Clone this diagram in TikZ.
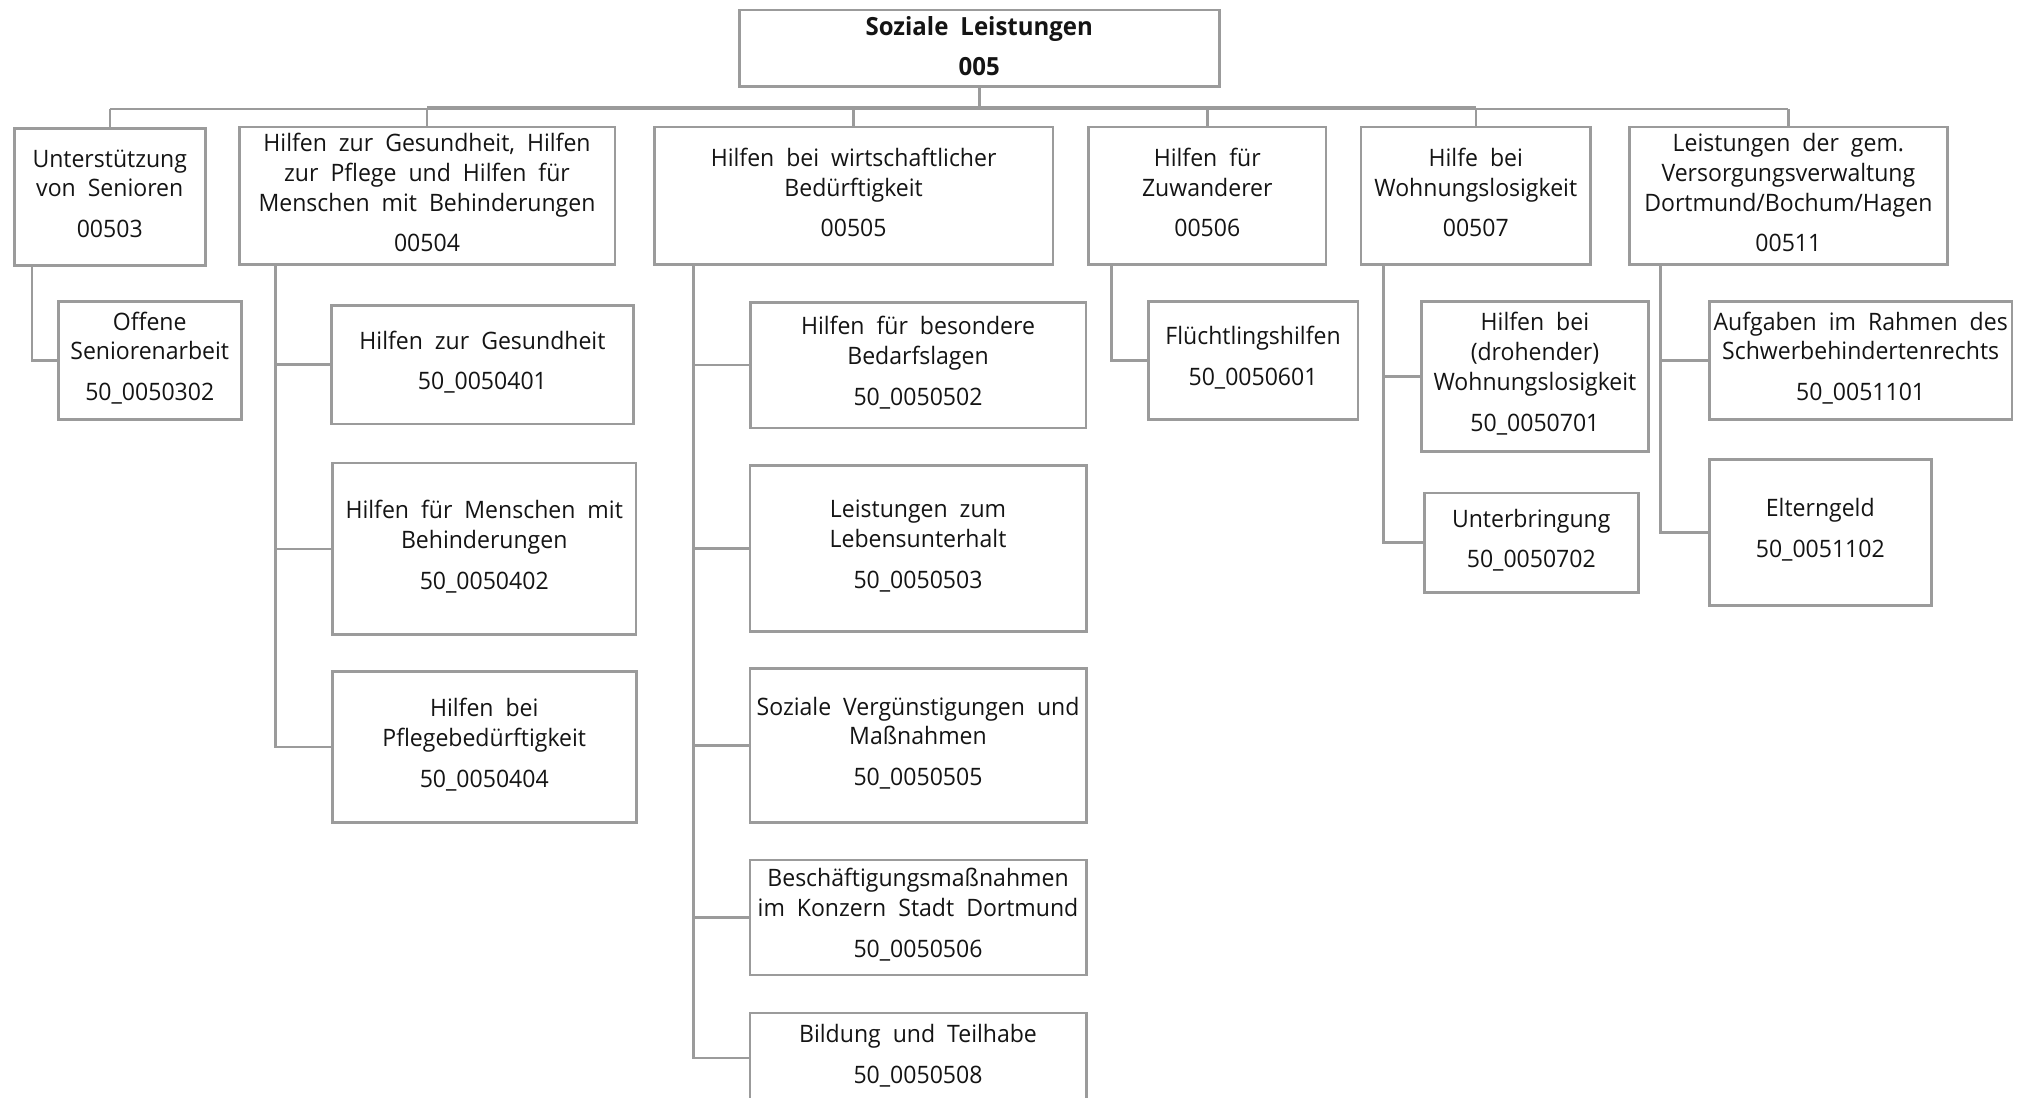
\documentclass[tikz,border=0pt]{standalone}
\usepackage{fontspec}
\setmainfont{Open Sans}[FakeStretch=0.96]
\usetikzlibrary{calc}
\definecolor{lineg}{RGB}{155,155,155}
\definecolor{txt}{RGB}{20,20,20}
\newcommand\gp{\\[11pt]}
\newcommand\wsp{\spaceskip=12pt plus 2pt\relax}
\tikzset{
  box/.style={draw=lineg, line width=2.5pt, fill=white, inner sep=0pt, anchor=north west,
    align=center, text=txt, font={\fontsize{24}{29.8}\selectfont\wsp}, text depth=8.5pt},
  lvtwo/.style={box, text depth=6.5pt},
  conn/.style={draw=lineg, line width=2.5pt},
}
\begin{document}
\begin{tikzpicture}[x=1pt,y=-1pt]
\useasboundingbox[fill=white] (0,0) rectangle (2033,1097);
% root
\node[box, text depth=5pt, minimum width=480, minimum height=76.5, font={\fontsize{25}{40}\selectfont\bfseries\wsp}] (root) at (738,9) {Soziale Leistungen\\005};
% level 2
\node[lvtwo, minimum width=191, minimum height=136.5] (n503) at (13,127.5) {Unterstützung\\von Senioren\gp 00503};
\node[lvtwo, minimum width=375.5, minimum height=137.6] (n504) at (238,125.7) {Hilfen zur Gesundheit, Hilfen\\zur Pflege und Hilfen für\\Menschen mit Behinderungen\gp 00504};
\node[lvtwo, minimum width=398.7, minimum height=137.6] (n505) at (653,125.7) {Hilfen bei wirtschaftlicher\\Bedürftigkeit\gp 00505};
\node[lvtwo, minimum width=237.4, minimum height=137.6] (n506) at (1087.3,125.7) {Hilfen für\\Zuwanderer\gp 00506};
\node[lvtwo, minimum width=229.6, minimum height=137.6] (n507) at (1359.7,125.7) {Hilfe bei\\Wohnungslosigkeit\gp 00507};
\node[lvtwo, minimum width=317.8, minimum height=137.6] (n511) at (1628.2,125.7) {Leistungen der gem.\\Versorgungsverwaltung\\Dortmund/Bochum/Hagen\gp 00511};
% level 3
\node[box, minimum width=183, minimum height=118.3] (c0302) at (57,300) {Offene\\Seniorenarbeit\gp 50\_0050302};
\node[box, minimum width=302.3, minimum height=118.7] (c0401) at (330,304) {Hilfen zur Gesundheit\gp 50\_0050401};
\node[box, minimum width=303.9, minimum height=171.4] (c0402) at (331,461.9) {Hilfen für Menschen mit\\Behinderungen\gp 50\_0050402};
\node[box, minimum width=304, minimum height=150.7] (c0404) at (331,670.4) {Hilfen bei\\Pflegebedürftigkeit\gp 50\_0050404};
\node[box, minimum width=335.5, minimum height=125.7] (c0502) at (749,301) {Hilfen für besondere\\Bedarfslagen\gp 50\_0050502};
\node[box, minimum width=336.5, minimum height=166.3] (c0503) at (748.5,464) {Leistungen zum\\Lebensunterhalt\gp 50\_0050503};
\node[box, minimum width=336.5, minimum height=153.7] (c0505) at (748.5,667.4) {Soziale Vergünstigungen und\\Maßnahmen\gp 50\_0050505};
\node[box, minimum width=336.5, minimum height=114.8] (c0506) at (748.5,858.7) {Beschäftigungsmaßnahmen\\im Konzern Stadt Dortmund\gp 50\_0050506};
\node[box, minimum width=336.5, minimum height=90] (c0508) at (748.5,1011.7) {Bildung und Teilhabe\gp 50\_0050508};
\node[box, minimum width=209.5, minimum height=118.3] (c0601) at (1147,300) {Flüchtlingshilfen\gp 50\_0050601};
\node[box, minimum width=227.3, minimum height=150] (c0701) at (1420,300) {Hilfen bei\\(drohender)\\Wohnungslosigkeit\gp 50\_0050701};
\node[box, minimum width=214, minimum height=99.3] (c0702) at (1423,491.7) {Unterbringung\gp 50\_0050702};
\node[box, minimum width=302.8, minimum height=118.3] (c1101) at (1708,300) {Aufgaben im Rahmen des\\Schwerbehindertenrechts\gp 50\_0051101};
\node[box, minimum width=222, minimum height=145.7] (c1102) at (1708,458.3) {Elterngeld\gp 50\_0051102};
% bus
\coordinate (busL) at (n503.north |- 0,109);
\coordinate (busR) at (n511.north |- 0,109);
\draw[conn] (busL) -- (busR);
\draw[conn] ($(n504.north |- busL)+(0,-1.5)$) -- ($(n507.north |- busL)+(0,-1.5)$);
\draw[conn] (root.south) -- (root.south |- busL);
\foreach \n in {n503,n504,n505,n506,n507,n511} \draw[conn] (\n.north) -- (\n.north |- busL);
% trunks
\coordinate (t503) at (31.8,0);
\coordinate (t504) at (275.6,0);
\coordinate (t505) at (693.5,0);
\coordinate (t506) at (1111.3,0);
\coordinate (t507) at (1383.6,0);
\coordinate (t511) at (1660.5,0);
\draw[conn] (n503.south -| t503) |- (c0302.west);
\draw[conn] (n504.south -| t504) |- (c0404.west);
\draw[conn] (t504 |- c0401.west) -- (c0401.west);
\draw[conn] (t504 |- c0402.west) -- (c0402.west);
\draw[conn] (n505.south -| t505) |- (c0508.west);
\foreach \c in {c0502,c0503,c0505,c0506} \draw[conn] (t505 |- \c.west) -- (\c.west);
\draw[conn] (n506.south -| t506) |- (c0601.west);
\draw[conn] (n507.south -| t507) |- (c0702.west);
\draw[conn] (t507 |- c0701.west) -- (c0701.west);
\draw[conn] (n511.south -| t511) |- (c1102.west);
\draw[conn] (t511 |- c1101.west) -- (c1101.west);
\end{tikzpicture}
\end{document}
